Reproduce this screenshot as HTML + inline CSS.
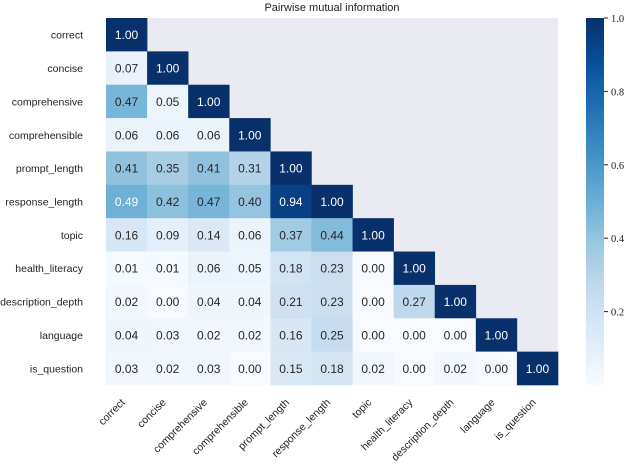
<!DOCTYPE html>
<html><head><meta charset="utf-8"><style>
body{margin:0;background:#fff;}
svg{display:block;font-family:"Liberation Sans",sans-serif;}
</style></head><body>
<svg id="chart" width="632" height="469" viewBox="0 0 632 469"></svg>
<script>
const labels = ["correct","concise","comprehensive","comprehensible","prompt_length","response_length","topic","health_literacy","description_depth","language","is_question"];
const displayLabels = ["correct","concise","comprehensive","comprehensible","prompt_length","response_length","topic","health_literacy","description_depth","language","is_question"];
const row0 = [1.00];
const row1 = [0.07,1.00];
const row2 = [0.47,0.05,1.00];
const row3 = [0.06,0.06,0.06,1.00];
const row4 = [0.41,0.35,0.41,0.31,1.00];
const row5 = [0.49,0.42,0.47,0.40,0.94,1.00];
const row6 = [0.16,0.09,0.14,0.06,0.37,0.44,1.00];
const row7 = [0.01,0.01,0.06,0.05,0.18,0.23,0.00,1.00];
const row8 = [0.02,0.00,0.04,0.04,0.21,0.23,0.00,0.27,1.00];
const row9 = [0.04,0.03,0.02,0.02,0.16,0.25,0.00,0.00,0.00,1.00];
const row10 = [0.03,0.02,0.03,0.00,0.15,0.18,0.02,0.00,0.02,0.00,1.00];
const rows = [row0,row1,row2,row3,row4,row5,row6,row7,row8,row9,row10];
const cbTicks = [0.2,0.4,0.6,0.8,1.0];
const cbTickLabels = ["0.2","0.4","0.6","0.8","1.0"];

const NS="http://www.w3.org/2000/svg";
const svg=document.getElementById('chart');
function mk(t,a,p){const e=document.createElementNS(NS,t);for(const k in a)e.setAttribute(k,a[k]);(p||svg).appendChild(e);return e;}
const L=106,T=18,W=452,H=367,n=labels.length,cw=W/n,ch=H/n;
const xPos=i=>L+i*cw, yPos=i=>T+i*ch;
const stops=["#f7fbff","#deebf7","#c6dbef","#9ecae1","#6baed6","#4292c6","#2171b5","#08519c","#08306b"];
function hex(h){return [1,3,5].map(i=>parseInt(h.substr(i,2),16));}
function color(v){v=Math.max(0,Math.min(1,v));const s=v*8,i=Math.min(7,Math.floor(s)),f=s-i;const a=hex(stops[i]),b=hex(stops[i+1]);return "rgb("+a.map((c,k)=>Math.round(c+(b[k]-c)*f)).join(",")+")";}

let title=mk('text',{x:332,y:11,'text-anchor':'middle','font-size':11,fill:'#222'});
title.textContent="Pairwise mutual information";



let bg=mk('rect',{x:L,y:T,width:W,height:H,fill:'#eaeaf2'});



rows.forEach((r,i)=>{
  r.forEach((v,j)=>{
    let c=mk('rect',{x:xPos(j),y:yPos(i),width:cw+0.3,height:ch+0.3,fill:color(v)});
    
    
    let t=mk('text',{x:xPos(j)+cw/2,y:yPos(i)+ch/2+4.5,'text-anchor':'middle','font-size':12,fill:v>0.48?'#fff':'#262626'});
    t.textContent=v.toFixed(2);
    
    
  });
});

displayLabels.forEach((lab,i)=>{
  let t=mk('text',{x:L-23,y:yPos(i)+ch/2+4,'text-anchor':'end','font-size':10.5,fill:'#222'});
  t.textContent=lab;
  
  
  const cx=xPos(i)+cw/2-1, cy=T+H+18;
  let u=mk('text',{x:cx,y:cy,'text-anchor':'end','font-size':10.5,fill:'#222',transform:'rotate(-45 '+cx+' '+cy+')'});
  u.textContent=lab;
  
  
});

// colorbar
const CX=586,CW=18,CT=18,CB=385;
const cbV=v=>CB-v*(CB-CT);
let defs=mk('defs',{});
let g=mk('linearGradient',{id:'cbg',x1:0,y1:1,x2:0,y2:0},defs);
for(let k=0;k<=20;k++){const f=k/20;mk('stop',{offset:f,'stop-color':color(f)},g);}
let cb=mk('rect',{x:CX,y:CT,width:CW,height:CB-CT,fill:'url(#cbg)'});


cbTicks.forEach((v,k)=>{
  const y=cbV(v);
  let tk=mk('line',{x1:CX+CW,x2:CX+CW+4,y1:y,y2:y,stroke:'#222','stroke-width':1});
  
  
  let t=mk('text',{x:CX+CW+7,y:y+4,'font-size':10.5,fill:'#222','font-family':'Liberation Serif, serif'});
  t.textContent=cbTickLabels[k];
  
  
});
</script>
</body></html>
